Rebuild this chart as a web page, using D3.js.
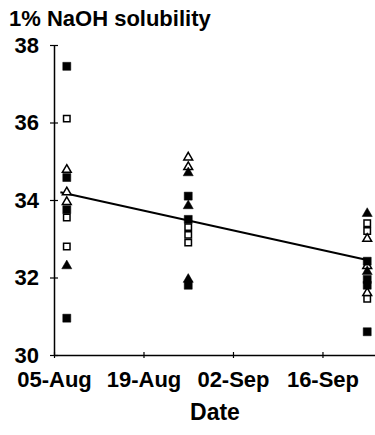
<!DOCTYPE html>
<meta charset="utf-8">
<head>
    <title>NaOH solubility vs date</title>
    <script src="https://d3js.org/d3.v7.min.js"></script>
    <style>
        body { margin: 0; background: #ffffff; }
        text { font-family: "Liberation Sans", Arial, sans-serif; font-weight: bold; fill: #000; }
    </style>
</head>
<body>
<div id="my_dataviz"></div>
<script>

// sampling dates (one column of points per date)
var sampleDates = ["1996-08-07", "1996-08-26", "1996-09-23"];

// values per sampling date, one array per marker type
var filledSquare   = [[37.45, 34.58, 33.75, 30.95], [34.1, 33.5, 31.8], [32.42, 31.95, 31.8, 30.6]];
var openSquare     = [[36.1, 33.55, 32.8], [33.3, 33.1, 32.9], [33.4, 33.2, 31.45]];
var filledTriangle = [[32.3], [34.7, 33.85, 31.95], [33.65, 32.15]];
var openTriangle   = [[34.78, 34.2, 33.95], [35.1, 34.85], [33.0, 32.3, 31.6]];

// fitted trend line end points
var trendDates  = ["1996-08-06", "1996-09-23"];
var trendValues = [34.2, 32.45];

// axis ticks
var xTickDates  = ["1996-08-05", "1996-08-19", "1996-09-02", "1996-09-16"];
var xDomain     = ["1996-08-05", "1996-09-25"];
var yTickValues = [30, 32, 34, 36, 38];

var parse = d3.timeParse("%Y-%m-%d");

var W = 375, H = 435;
var svg = d3.select("#my_dataviz")
    .append("svg")
    .attr("width", W)
    .attr("height", H);

// scales
var x = d3.scaleTime()
    .domain(xDomain.map(parse))
    .range([54, 380]);
var y = d3.scaleLinear()
    .domain([30, 38])
    .range([355, 45]);

// Y axis, ticks crossing the line
var yAxis = svg.append("g")
    .attr("transform", "translate(" + x(parse(xDomain[0])) + ",0)")
    .call(d3.axisLeft(y).tickValues(yTickValues).tickSize(4).tickSizeOuter(0).tickPadding(11));
yAxis.select(".domain").attr("stroke-width", 1.5);
yAxis.selectAll(".tick line").attr("x1", 4).attr("stroke-width", 1.2);
yAxis.selectAll(".tick text")
    .style("font-size", "22px")
    .style("font-family", "'Liberation Sans', Arial, sans-serif")
    .style("font-weight", "bold");

// X axis
var xAxis = svg.append("g")
    .attr("transform", "translate(0," + y(30) + ")")
    .call(d3.axisBottom(x)
        .tickValues(xTickDates.map(parse))
        .tickFormat(d3.timeFormat("%d-%b"))
        .tickSize(3).tickSizeOuter(0));
xAxis.select(".domain").attr("stroke-width", 1.5);
xAxis.selectAll(".tick line").attr("y1", -3).attr("stroke-width", 1.2);
xAxis.selectAll(".tick text")
    .attr("y", 32).attr("dy", 0)
    .style("font-size", "22px")
    .style("font-family", "'Liberation Sans', Arial, sans-serif")
    .style("font-weight", "bold");

// title and axis label
svg.append("text")
    .attr("x", 9).attr("y", 26)
    .style("font-size", "22px")
    .text("1% NaOH solubility");
svg.append("text")
    .attr("x", 215).attr("y", 420)
    .attr("text-anchor", "middle")
    .style("font-size", "23px")
    .text("Date");

// trend line
var trend = trendDates.map(function(d, i) { return {date: parse(d), value: trendValues[i]}; });
svg.append("path")
    .datum(trend)
    .attr("fill", "none")
    .attr("stroke", "#000")
    .attr("stroke-width", 2)
    .attr("d", d3.line()
        .x(function(d) { return x(d.date); })
        .y(function(d) { return y(d.value); }));

// markers
function flatten(series) {
    var out = [];
    series.forEach(function(vals, i) {
        vals.forEach(function(v) { out.push({date: parse(sampleDates[i]), value: v}); });
    });
    return out;
}
function addMarkers(series, type, size, filled) {
    svg.append("g")
        .selectAll("path")
        .data(flatten(series))
        .enter()
        .append("path")
            .attr("transform", function(d) { return "translate(" + x(d.date) + "," + y(d.value) + ")"; })
            .attr("d", d3.symbol().type(type).size(size))
            .attr("fill", filled ? "#000" : "#fff")
            .attr("stroke", "#000")
            .attr("stroke-width", filled ? 0.5 : 1.5);
}
addMarkers(openSquare, d3.symbolSquare, 42, false);
addMarkers(openTriangle, d3.symbolTriangle, 34, false);
addMarkers(filledSquare, d3.symbolSquare, 64, true);
addMarkers(filledTriangle, d3.symbolTriangle, 44, true);

</script>
</body>
</html>
